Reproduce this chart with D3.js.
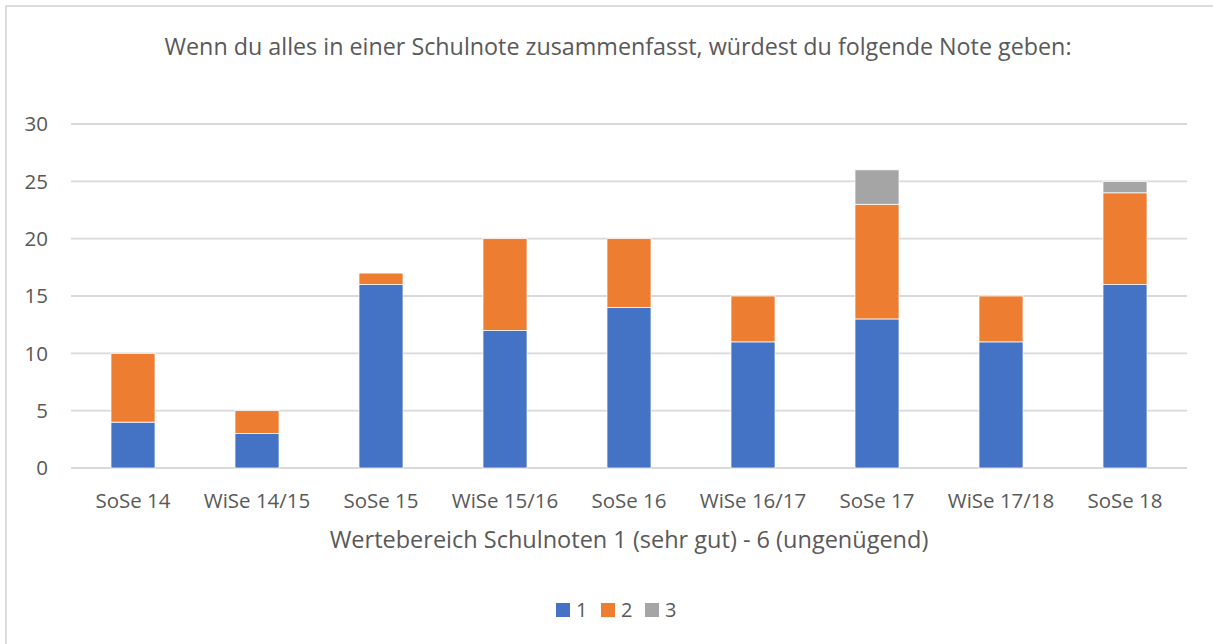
<!DOCTYPE html>
<html lang="de">
<head>
<meta charset="UTF-8">
<title>Schulnote</title>
<script src="https://d3js.org/d3.v7.min.js"></script>
<style>
  body { margin: 0; background: #fff; }
  svg { display: block; font-family: "Open Sans", sans-serif; }
</style>
</head>
<body>
<svg id="vis" width="1213" height="644"></svg>
<script>
  const semesters = ["SoSe 14", "WiSe 14/15", "SoSe 15", "WiSe 15/16", "SoSe 16", "WiSe 16/17", "SoSe 17", "WiSe 17/18", "SoSe 18"];
  const note1 = [4, 3, 16, 12, 14, 11, 13, 11, 16];
  const note2 = [6, 2, 1, 8, 6, 4, 10, 4, 8];
  const note3 = [0, 0, 0, 0, 0, 0, 3, 0, 1];
  const seriesNames = ["1", "2", "3"];
  const colors = ["#4472c4", "#ed7d31", "#a5a5a5"];
  const yTicks = [0, 5, 10, 15, 20, 25, 30];

  const svg = d3.select("#vis");
  const width = 1213, height = 644;
  const margin = { top: 124, right: 26, bottom: 176, left: 71 };
  const textColor = "#595959";

  // chart frame
  svg.append("rect")
    .attr("x", 6).attr("y", 6)
    .attr("width", width).attr("height", height)
    .attr("fill", "none")
    .attr("stroke", "#d9d9d9")
    .attr("stroke-width", 1.8);

  const table = semesters.map((s, i) => ({ sem: s, "1": note1[i], "2": note2[i], "3": note3[i] }));
  const stacked = d3.stack().keys(seriesNames)(table);

  const x = d3.scaleBand()
    .domain(semesters)
    .range([margin.left, width - margin.right])
    .paddingInner(0.645)
    .paddingOuter(0.3225);

  const y = d3.scaleLinear()
    .domain([0, 30])
    .range([height - margin.bottom, margin.top]);

  // gridlines
  svg.append("g")
    .selectAll("line")
    .data(yTicks)
    .join("line")
    .attr("x1", margin.left)
    .attr("x2", width - margin.right)
    .attr("y1", d => y(d))
    .attr("y2", d => y(d))
    .attr("stroke", "#d9d9d9")
    .attr("stroke-width", 1.8);

  // y tick labels
  svg.append("g")
    .selectAll("text")
    .data(yTicks)
    .join("text")
    .attr("x", 48)
    .attr("y", d => y(d))
    .attr("dy", "0.35em")
    .attr("text-anchor", "end")
    .attr("font-size", 20.5)
    .attr("fill", textColor)
    .text(d => d);

  // bars
  svg.append("g")
    .selectAll("g")
    .data(stacked)
    .join("g")
    .attr("fill", (d, i) => colors[i])
    .selectAll("rect")
    .data(d => d.filter(p => p[1] > p[0]))
    .join("rect")
    .attr("x", d => x(d.data.sem))
    .attr("width", x.bandwidth())
    .attr("y", d => y(d[1]))
    .attr("height", d => y(d[0]) - y(d[1]))
    .attr("stroke", "#fff")
    .attr("stroke-width", 0.75);

  // x labels
  svg.append("g")
    .selectAll("text")
    .data(semesters)
    .join("text")
    .attr("x", d => x(d) + x.bandwidth() / 2)
    .attr("y", 508)
    .attr("text-anchor", "middle")
    .attr("font-size", 20.5)
    .attr("fill", textColor)
    .text(d => d);

  // title
  svg.append("text")
    .attr("x", 618)
    .attr("y", 55)
    .attr("text-anchor", "middle")
    .attr("font-size", 23.3)
    .attr("fill", textColor)
    .text("Wenn du alles in einer Schulnote zusammenfasst, würdest du folgende Note geben:");

  // axis title
  svg.append("text")
    .attr("x", 629)
    .attr("y", 548)
    .attr("text-anchor", "middle")
    .attr("font-size", 23.5)
    .attr("fill", textColor)
    .text("Wertebereich Schulnoten 1 (sehr gut) - 6 (ungenügend)");

  // legend
  const legendX = [556, 601, 645];
  const legend = svg.append("g")
    .selectAll("g")
    .data(seriesNames)
    .join("g")
    .attr("transform", (d, i) => `translate(${legendX[i]},603)`);
  legend.append("rect")
    .attr("width", 14).attr("height", 14)
    .attr("fill", (d, i) => colors[i]);
  legend.append("text")
    .attr("x", 20)
    .attr("y", 7)
    .attr("dy", "0.35em")
    .attr("font-size", 20)
    .attr("fill", textColor)
    .text(d => d);
</script>
</body>
</html>
